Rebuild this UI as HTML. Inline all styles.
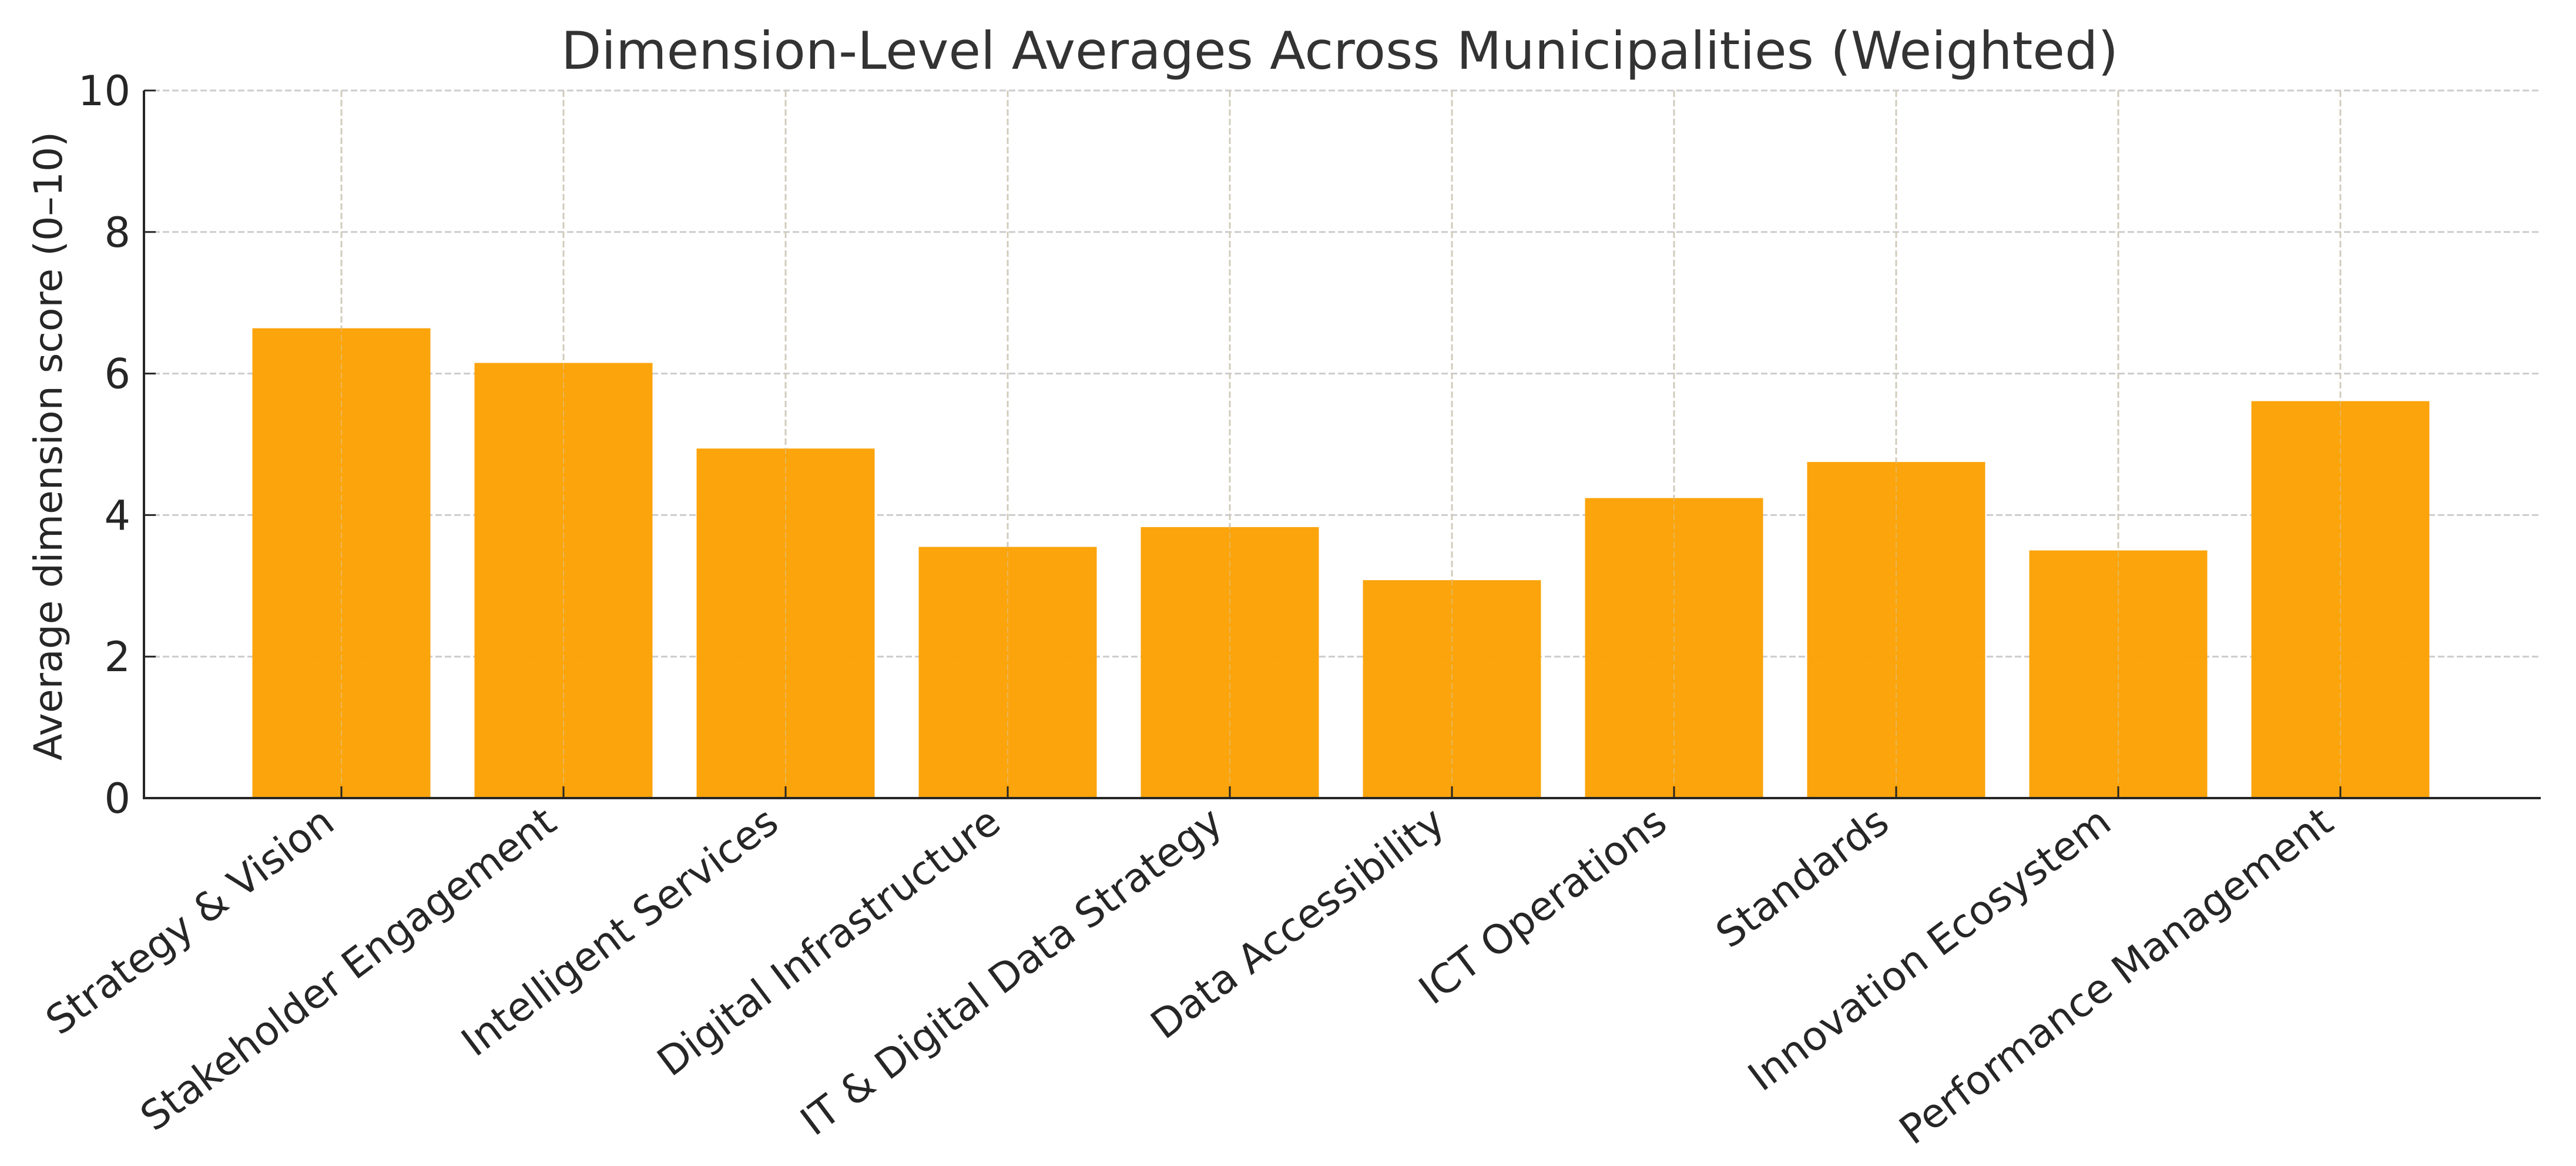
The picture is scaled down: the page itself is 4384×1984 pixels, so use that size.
<!DOCTYPE html>
<html><head><meta charset="utf-8"><style>
html,body{margin:0;padding:0;background:#fff;}
svg{display:block;}
text{font-family:"DejaVu Sans","Liberation Sans",sans-serif;fill:#262626;}
</style></head><body>
<svg id="chart" width="4384" height="1984" viewBox="0 0 4384 1984" xmlns="http://www.w3.org/2000/svg">
<text x="2280" y="117" font-size="88" text-anchor="middle" style="fill:#333" textLength="2650" lengthAdjust="spacingAndGlyphs">Dimension-Level Averages Across Municipalities (Weighted)</text>
<g id="grid"></g>
<g id="bars"></g>
<g id="axes"></g>
<text x="0" y="0" font-size="66" text-anchor="middle" transform="translate(105,759) rotate(-90)" textLength="1070" lengthAdjust="spacingAndGlyphs">Average dimension score (0–10)</text>
</svg>
<script>
const categories = ["Strategy & Vision","Stakeholder Engagement","Intelligent Services","Digital Infrastructure","IT & Digital Data Strategy","Data Accessibility","ICT Operations","Standards","Innovation Ecosystem","Performance Management"];
const values = [6.64,6.15,4.94,3.55,3.83,3.08,4.24,4.75,3.50,5.61];
const yTicks = [0,2,4,6,8,10];

const NS="http://www.w3.org/2000/svg";
const X0=245, X1=4324, Y0=1358, Y10=154;
const firstTick=581, step=378, barW=303;
function xScale(i){return firstTick+i*step;}
function yScale(v){return Y0-(Y0-Y10)*v/10;}
function mk(tag,attrs,parent){const e=document.createElementNS(NS,tag);for(const k in attrs)e.setAttribute(k,attrs[k]);parent.appendChild(e);return e;}
const grid=document.getElementById('grid'), bars=document.getElementById('bars'), axes=document.getElementById('axes');

yTicks.forEach(t=>{
  const y=yScale(t);
  if(t>0){const g=mk('line',{x1:X0,x2:X1,y1:y,y2:y,stroke:'#cccccc','stroke-width':3,'stroke-dasharray':'11,5'},grid);
  
  }
  const tk=mk('line',{x1:X0,x2:X0+20,y1:y,y2:y,stroke:'#262626','stroke-width':3},axes);
  
  
  const lb=mk('text',{x:222,y:y+25,'font-size':70,'text-anchor':'end'},axes);
  
  
  lb.textContent=t;
});
categories.forEach((c,i)=>{
  const x=xScale(i);
  const g=mk('line',{x1:x,x2:x,y1:Y10,y2:Y0,stroke:'#cccccc','stroke-width':3,'stroke-dasharray':'11,5'},grid);
  
  
});
values.forEach((v,i)=>{
  const x=xScale(i), y=yScale(v);
  const r=mk('rect',{x:x-barW/2,y:y,width:barW,height:Y0-y,fill:'#fba104','fill-opacity':0.97},bars);
  
  
});
categories.forEach((c,i)=>{
  const x=xScale(i);
  const g=mk('line',{x1:x,x2:x,y1:Y10,y2:Y0,stroke:'#d9c9a0','stroke-width':2,'stroke-dasharray':'11,5','stroke-opacity':0.5},bars);
  
  
  const tk=mk('line',{x1:x,x2:x,y1:Y0,y2:Y0-20,stroke:'#262626','stroke-width':3},axes);
  
  
  const lb=mk('text',{x:0,y:0,'font-size':68,'text-anchor':'end',transform:'translate('+(x-8)+',1408) rotate(-37)'},axes);
  
  
  lb.textContent=c;
});
const ya=mk('line',{x1:X0,x2:X0,y1:Y10,y2:Y0+2,stroke:'#262626','stroke-width':4},axes);


const xa=mk('line',{x1:X0-2,x2:X1,y1:Y0,y2:Y0,stroke:'#262626','stroke-width':4},axes);


</script>
</body></html>
